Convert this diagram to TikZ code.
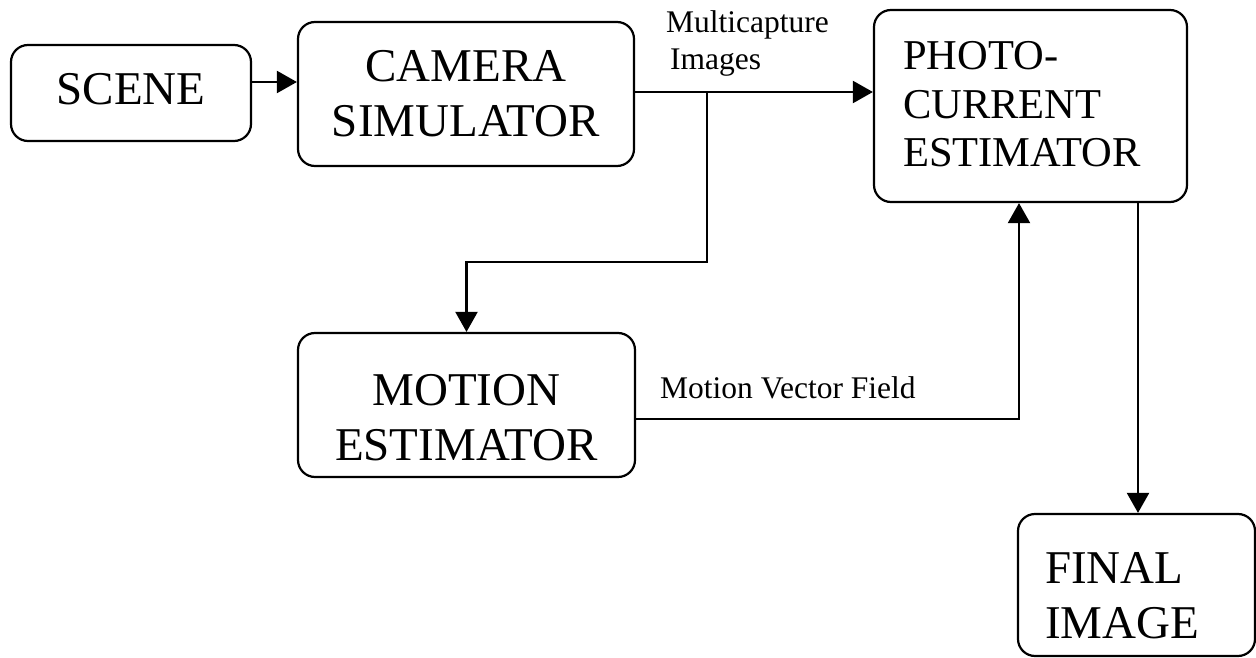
\documentclass[tikz,border=0pt]{standalone}
\usepackage{fontspec}
\setmainfont{Liberation Serif}
\usetikzlibrary{arrows.meta}
\begin{document}
\begin{tikzpicture}[x=1pt,y=-1pt,
  box/.style={draw, line width=2.2pt, rounded corners=17pt, inner sep=0pt},
  bigtext/.style={font=\fontsize{47}{55}\selectfont, inner sep=0pt},
  photofont/.style={font=\fontsize{42.5}{48.5}\selectfont, inner sep=0pt},
  smalltext/.style={font=\fontsize{31.5}{37}\selectfont, inner sep=0pt},
  arr/.style={line width=2.2pt, -{Triangle[length=20pt,width=22pt]}}]
\useasboundingbox (0,0) rectangle (1256,658);

% blocks
\node[box, minimum width=240, minimum height=96]  (scene)  at (131,93)    {};
\node[box, minimum width=336, minimum height=144] (camera) at (466,94)    {};
\node[box, minimum width=313, minimum height=192] (photo)  at (1030.5,106) {};
\node[box, minimum width=337, minimum height=144] (motion) at (466.5,405) {};
\node[box, minimum width=237, minimum height=142] (final)  at (1136.5,585) {};

% block captions (base anchor sits on the last line)
\node[bigtext, anchor=base] (scene-txt) at (131,105) {SCENE};
\node[bigtext, anchor=base, align=center] (camera-txt) at (466,137) {CAMERA\\SIMULATOR};
\node[bigtext, anchor=base, align=center] (motion-txt) at (466.5,460) {MOTION\\ESTIMATOR};
\node[photofont, anchor=base west, align=left] (photo-txt) at (903,167) {PHOTO-\\CURRENT\\ESTIMATOR};
\node[bigtext, anchor=base west, align=left] (final-txt) at (1045,638) {FINAL\\IMAGE};

% signal labels
\node[smalltext, anchor=base west, align=left] (mc-lbl) at (666,70) {Multicapture\\\hspace*{4pt}Images};
\node[smalltext, anchor=base west] (mv-lbl) at (660,398) {Motion Vector Field};

% routing points
\coordinate (r1) at (0,82);
\coordinate (r2) at (0,92);
\coordinate (br) at (707,92);
\coordinate (drop) at (0,262);
\coordinate (r3) at (0,419);
\coordinate (up) at (1019,0);
\coordinate (dn) at (1138,0);

% connectors
\draw[arr] (scene.east |- r1) -- (camera.west |- r1);
\draw[arr] (camera.east |- r2) -- (photo.west |- r2);
\draw[arr] (br) |- (motion.north |- drop) -- (motion.north);
\draw[arr] (motion.east |- r3) -| (photo.south -| up);
\draw[arr] (photo.south -| dn) -- (final.north -| dn);
\end{tikzpicture}
\end{document}
